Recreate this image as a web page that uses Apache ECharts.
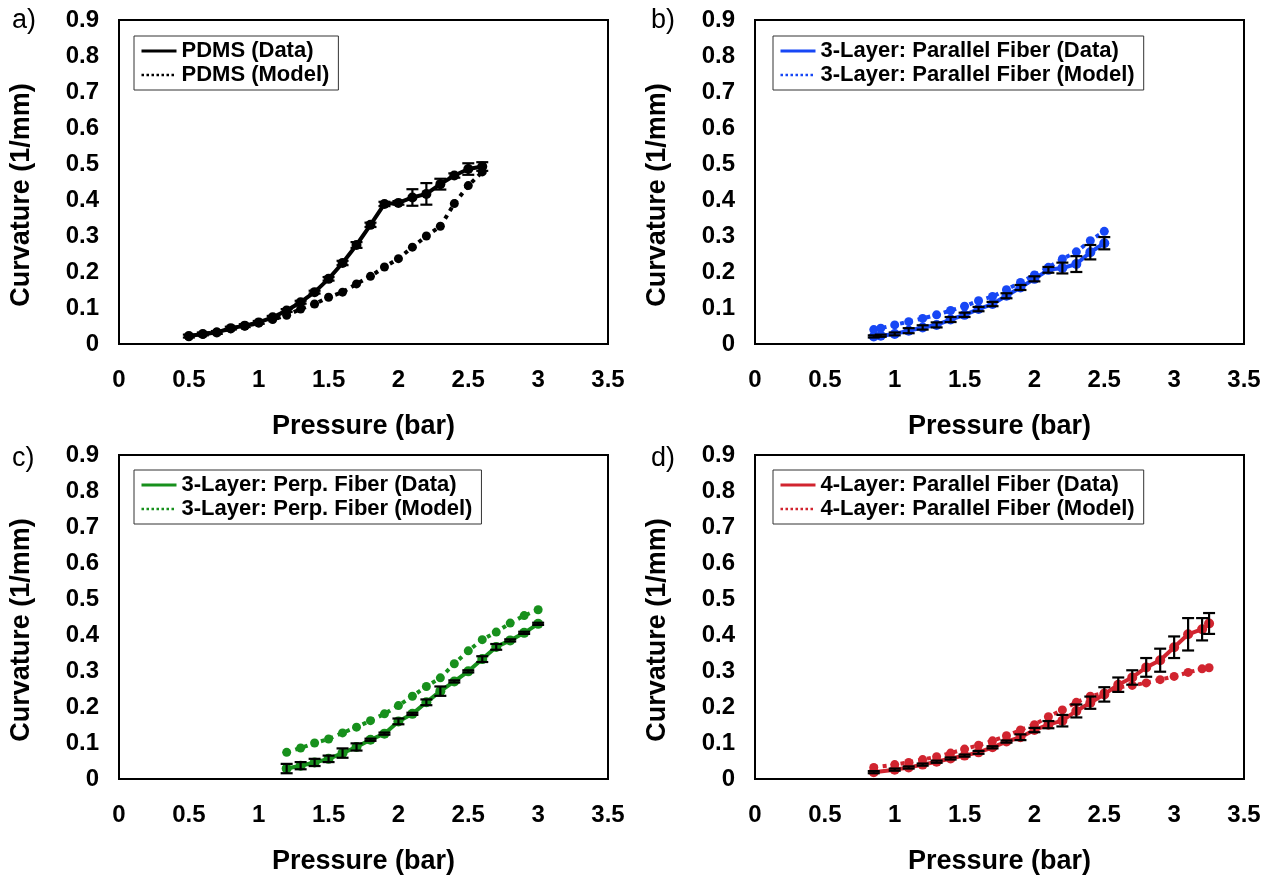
<!DOCTYPE html>
<html>
<head>
<meta charset="utf-8">
<script src="https://cdn.jsdelivr.net/npm/echarts@6/dist/echarts.min.js"></script>
<style>
html, body { margin: 0; background: #fff; }
#chart { width: 1277px; height: 879px; }
</style>
</head>
<body>
<div id="chart"></div>
<script>
// pressure in bar, curvature in 1/mm
const pdmsPressure = [0.5, 0.6, 0.7, 0.8, 0.9, 1.0, 1.1, 1.2, 1.3, 1.4, 1.5, 1.6, 1.7, 1.8, 1.9, 2.0, 2.1, 2.2, 2.3, 2.4, 2.5, 2.6]
const pdmsData = [0.022, 0.028, 0.032, 0.044, 0.051, 0.06, 0.074, 0.093, 0.116, 0.144, 0.181, 0.225, 0.275, 0.331, 0.389, 0.392, 0.407, 0.417, 0.444, 0.468, 0.486, 0.493]
const pdmsErr = [0.004, 0.004, 0.004, 0.004, 0.004, 0.004, 0.004, 0.004, 0.004, 0.004, 0.005, 0.006, 0.008, 0.006, 0.006, 0.005, 0.023, 0.03, 0.015, 0.006, 0.016, 0.012]
const pdmsModel = [0.02, 0.027, 0.033, 0.042, 0.05, 0.058, 0.068, 0.08, 0.097, 0.111, 0.13, 0.144, 0.167, 0.188, 0.214, 0.237, 0.269, 0.30, 0.327, 0.39, 0.44, 0.478]

const parPressure = [0.85, 0.9, 1.0, 1.1, 1.2, 1.3, 1.4, 1.5, 1.6, 1.7, 1.8, 1.9, 2.0, 2.1, 2.2, 2.3, 2.4, 2.5]
const parData = [0.021, 0.023, 0.028, 0.037, 0.046, 0.053, 0.068, 0.081, 0.097, 0.111, 0.134, 0.157, 0.181, 0.206, 0.211, 0.222, 0.255, 0.28]
const parErr = [0.003, 0.003, 0.004, 0.007, 0.006, 0.007, 0.007, 0.006, 0.006, 0.006, 0.007, 0.007, 0.007, 0.008, 0.015, 0.022, 0.02, 0.017]
const parModel = [0.04, 0.044, 0.053, 0.062, 0.071, 0.081, 0.093, 0.105, 0.12, 0.132, 0.151, 0.171, 0.192, 0.213, 0.236, 0.256, 0.287, 0.313]

const perpPressure = [1.2, 1.3, 1.4, 1.5, 1.6, 1.7, 1.8, 1.9, 2.0, 2.1, 2.2, 2.3, 2.4, 2.5, 2.6, 2.7, 2.8, 2.9, 3.0]
const perpData = [0.029, 0.037, 0.046, 0.056, 0.072, 0.089, 0.109, 0.126, 0.16, 0.181, 0.213, 0.244, 0.271, 0.299, 0.333, 0.367, 0.385, 0.406, 0.431]
const perpErr = [0.013, 0.01, 0.01, 0.009, 0.013, 0.01, 0.003, 0.003, 0.008, 0.003, 0.008, 0.013, 0.003, 0.003, 0.008, 0.008, 0.003, 0.003, 0.003]
const perpModel = [0.074, 0.086, 0.1, 0.111, 0.128, 0.144, 0.162, 0.181, 0.204, 0.23, 0.257, 0.281, 0.32, 0.356, 0.387, 0.408, 0.433, 0.454, 0.47]

const fourPressure = [0.85, 1.0, 1.1, 1.2, 1.3, 1.4, 1.5, 1.6, 1.7, 1.8, 1.9, 2.0, 2.1, 2.2, 2.3, 2.4, 2.5, 2.6, 2.7, 2.8, 2.9, 3.0, 3.1, 3.2, 3.25]
const fourData = [0.019, 0.026, 0.032, 0.04, 0.048, 0.057, 0.065, 0.074, 0.088, 0.104, 0.116, 0.136, 0.151, 0.162, 0.189, 0.212, 0.235, 0.262, 0.282, 0.31, 0.33, 0.366, 0.402, 0.416, 0.432]
const fourErr = [0.003, 0.003, 0.003, 0.003, 0.003, 0.003, 0.003, 0.004, 0.003, 0.003, 0.008, 0.006, 0.01, 0.016, 0.018, 0.017, 0.02, 0.02, 0.02, 0.026, 0.032, 0.03, 0.045, 0.031, 0.029]
const fourModel = [0.032, 0.04, 0.046, 0.054, 0.062, 0.072, 0.083, 0.094, 0.106, 0.12, 0.136, 0.151, 0.173, 0.192, 0.213, 0.23, 0.239, 0.254, 0.26, 0.267, 0.276, 0.285, 0.296, 0.306, 0.309]

const xTicks = { min: 0, max: 3.5, interval: 0.5 }
const yTicks = { min: 0, max: 0.9, interval: 0.1 }

const font = "'Liberation Sans', Arial, Helvetica, sans-serif"

const panels = [
    { letter: 'a)', name: 'PDMS', color: '#000000', x: pdmsPressure, data: pdmsData, err: pdmsErr, model: pdmsModel,
      grid: { left: 119, top: 20, width: 489, height: 324 }, legend: { left: 134, top: 36 }, label: { left: 12, top: 7 } },
    { letter: 'b)', name: '3-Layer: Parallel Fiber', color: '#1747f5', x: parPressure, data: parData, err: parErr, model: parModel,
      grid: { left: 755, top: 20, width: 489, height: 324 }, legend: { left: 773, top: 36 }, label: { left: 651, top: 7 } },
    { letter: 'c)', name: '3-Layer: Perp. Fiber', color: '#17901c', x: perpPressure, data: perpData, err: perpErr, model: perpModel,
      grid: { left: 119, top: 455, width: 489, height: 324 }, legend: { left: 134, top: 470 }, label: { left: 12, top: 445 } },
    { letter: 'd)', name: '4-Layer: Parallel Fiber', color: '#d1242f', x: fourPressure, data: fourData, err: fourErr, model: fourModel,
      grid: { left: 755, top: 455, width: 489, height: 324 }, legend: { left: 773, top: 470 }, label: { left: 651, top: 445 } }
]

const zip = (...cols) => cols[0].map((_, i) => cols.map(c => c[i]))

const errorBars = (params, api) => {
    const x = api.value(0), y = api.value(1), e = api.value(2)
    const top = api.coord([x, y + e])
    const bot = api.coord([x, y - e])
    const half = 6
    const style = { stroke: '#000', lineWidth: 2.2 }
    return {
        type: 'group',
        children: [
            { type: 'line', shape: { x1: top[0], y1: top[1], x2: bot[0], y2: bot[1] }, style },
            { type: 'line', shape: { x1: top[0] - half, y1: top[1], x2: top[0] + half, y2: top[1] }, style },
            { type: 'line', shape: { x1: bot[0] - half, y1: bot[1], x2: bot[0] + half, y2: bot[1] }, style }
        ]
    }
}

const labelStyle = { fontSize: 24, fontWeight: 'bold', color: '#000', fontFamily: font }
const titleStyle = { fontSize: 27, fontWeight: 'bold', color: '#000', fontFamily: font }

const option = {
    animation: false,
    backgroundColor: '#fff',
    grid: panels.map(p => ({ ...p.grid, show: true, borderColor: '#000', borderWidth: 2, backgroundColor: 'transparent' })),
    xAxis: panels.map((p, i) => ({
        gridIndex: i, type: 'value', ...xTicks,
        name: 'Pressure (bar)', nameLocation: 'middle', nameGap: 69, nameTextStyle: titleStyle,
        axisLine: { show: false }, axisTick: { show: false }, splitLine: { show: false },
        axisLabel: { ...labelStyle, margin: 24 }
    })),
    yAxis: panels.map((p, i) => ({
        gridIndex: i, type: 'value', ...yTicks,
        name: 'Curvature (1/mm)', nameLocation: 'middle', nameGap: 84, nameRotate: 90,
        nameTextStyle: { ...titleStyle, padding: [0, 26, 0, 0] },
        axisLine: { show: false }, axisTick: { show: false }, splitLine: { show: false },
        axisLabel: { ...labelStyle, margin: 20 }
    })),
    legend: panels.map(p => ({
        orient: 'vertical', ...p.legend,
        selectedMode: false,
        borderColor: '#333', borderWidth: 1, borderRadius: 0,
        padding: [4, 9, 4, 6],
        itemGap: 2, itemWidth: 35, itemHeight: 14, itemTextGap: 7,
        textStyle: { fontSize: 22, fontWeight: 'bold', color: '#000', fontFamily: font },
        itemStyle: { opacity: 0 },
        data: [
            { name: p.name + ' (Data)', lineStyle: { type: 'solid', width: 3 } },
            { name: p.name + ' (Model)', lineStyle: { type: 'dotted', width: 2.5 } }
        ]
    })),
    graphic: panels.map(p => ({
        type: 'text', left: p.label.left, top: p.label.top,
        style: { text: p.letter, fontSize: 27, fontFamily: font, fill: '#000' }
    })),
    series: panels.flatMap((p, i) => [
        {
            name: p.name + ' (Model)', type: 'line', xAxisIndex: i, yAxisIndex: i,
            data: zip(p.x, p.model), symbol: 'circle', symbolSize: 9,
            lineStyle: { color: p.color, width: 4, type: [4, 5] }, itemStyle: { color: p.color }, z: 2
        },
        {
            name: p.name + ' (Data)', type: 'line', xAxisIndex: i, yAxisIndex: i,
            data: zip(p.x, p.data), symbol: 'circle', symbolSize: 10,
            lineStyle: { color: p.color, width: 4 }, itemStyle: { color: p.color }, z: 3
        },
        {
            name: p.name + ' err', type: 'custom', xAxisIndex: i, yAxisIndex: i,
            data: zip(p.x, p.data, p.err), renderItem: errorBars, z: 4
        }
    ])
}

const chart = echarts.init(document.getElementById('chart'))
chart.setOption(option)
</script>
</body>
</html>
